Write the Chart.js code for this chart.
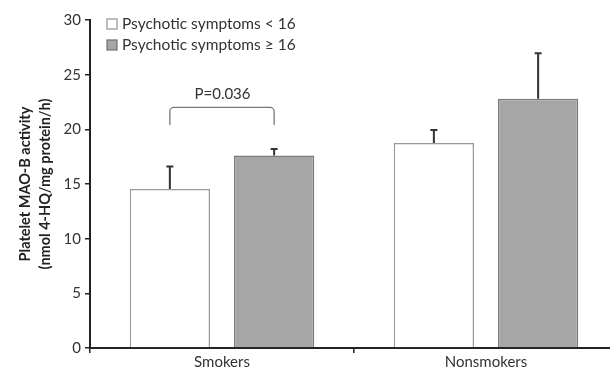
<!DOCTYPE html>
<html>
<head>
<meta charset="utf-8">
<script src="https://cdn.jsdelivr.net/npm/chart.js@4"></script>
<style>
  html, body { margin: 0; padding: 0; background: #fff; overflow: hidden; }
  #wrap { width: 610px; height: 370px; overflow: hidden; }
</style>
</head>
<body>
<div id="wrap"><canvas id="maoChart" width="618" height="370"></canvas></div>
<script>
const groups = ["Smokers", "Nonsmokers"];
const lowMeans = [14.55, 18.75];
const lowErrors = [2.05, 1.2];
const highMeans = [17.6, 22.8];
const highErrors = [0.6, 4.15];
const yTicks = [0, 5, 10, 15, 20, 25, 30];
const pLabel = "P=0.036";

const font = "Lato, 'Open Sans', sans-serif";

// error bars (upward only) + significance bracket + legend
const extras = {
  id: "extras",
  afterDatasetsDraw(chart) {
    const ctx = chart.ctx;
    const y = chart.scales.y;
    const errs = [lowErrors, highErrors];
    ctx.save();
    ctx.strokeStyle = "#333";
    ctx.lineWidth = 2;
    chart.data.datasets.forEach(function(ds, i) {
      chart.getDatasetMeta(i).data.forEach(function(bar, j) {
        const top = y.getPixelForValue(ds.data[j] + errs[i][j]);
        ctx.beginPath();
        ctx.moveTo(bar.x, bar.y);
        ctx.lineTo(bar.x, top);
        ctx.moveTo(bar.x - 3.5, top);
        ctx.lineTo(bar.x + 3.5, top);
        ctx.stroke();
      });
    });

    // bracket over smokers
    const b0 = chart.getDatasetMeta(0).data[0];
    const b1 = chart.getDatasetMeta(1).data[0];
    const yTop = y.getPixelForValue(22.0);
    const yEnd = y.getPixelForValue(20.4);
    ctx.strokeStyle = "#777";
    ctx.lineWidth = 1.3;
    ctx.beginPath();
    ctx.moveTo(b0.x, yEnd);
    ctx.arcTo(b0.x, yTop, b1.x, yTop, 4);
    ctx.arcTo(b1.x, yTop, b1.x, yEnd, 4);
    ctx.lineTo(b1.x, yEnd);
    ctx.stroke();
    ctx.fillStyle = "#333";
    ctx.font = "15px " + font;
    ctx.textAlign = "center";
    ctx.textBaseline = "middle";
    ctx.fillText(pLabel, (b0.x + b1.x) / 2 + 0.5, yTop - 13);

    // legend
    const lx = chart.chartArea.left + 17;
    ctx.font = "15.5px " + font;
    chart.data.datasets.forEach(function(ds, i) {
      const ly = chart.chartArea.top + 4 + i * 21;
      ctx.fillStyle = ds.backgroundColor;
      ctx.strokeStyle = ds.borderColor;
      ctx.lineWidth = 1.3;
      ctx.fillRect(lx, ly - 5, 10, 10);
      ctx.strokeRect(lx, ly - 5, 10, 10);
      ctx.fillStyle = "#333";
      ctx.textAlign = "left";
      ctx.textBaseline = "middle";
      ctx.fillText(ds.label, lx + 15, ly);
    });
    ctx.restore();
  }
};

new Chart("maoChart", {
  type: "bar",
  data: {
    labels: groups,
    datasets: [{
      label: "Psychotic symptoms < 16",
      data: lowMeans,
      backgroundColor: "#ffffff",
      borderColor: "#9a9a9a",
      borderWidth: 1.5
    }, {
      label: "Psychotic symptoms \u2265 16",
      data: highMeans,
      backgroundColor: "#a6a6a6",
      borderColor: "#7a7a7a",
      borderWidth: 1.5
    }]
  },
  options: {
    responsive: false,
    animation: false,
    events: [],
    layout: { padding: { top: 20, right: 0, left: 0, bottom: 0 } },
    categoryPercentage: 0.79,
    barPercentage: 0.77,
    plugins: {
      legend: { display: false },
      tooltip: { enabled: false }
    },
    scales: {
      x: {
        grid: { display: true, drawOnChartArea: false, drawTicks: true, tickLength: 5, color: "#222", lineWidth: 1.5 },
        border: { color: "#222", width: 2 },
        ticks: { color: "#333", font: { family: font, size: 15 }, padding: 0 },
        afterFit(axis) { axis.height = 22; }
      },
      y: {
        min: 0,
        max: 30,
        afterBuildTicks(axis) { axis.ticks = yTicks.map(v => ({ value: v })); },
        grid: { display: true, drawOnChartArea: false, drawTicks: true, tickLength: 5, color: "#222", lineWidth: 1.5 },
        border: { color: "#222", width: 2 },
        ticks: { color: "#333", font: { family: font, size: 15 }, padding: 4 },
        title: {
          display: true,
          text: ["Platelet MAO-B activity", "(nmol 4-HQ/mg protein/h)"],
          color: "#222",
          font: { family: font, size: 14.5, weight: "bold", lineHeight: 1.38 },
          padding: { top: 15, bottom: 0 }
        },
        afterFit(axis) { axis.width = 90; }
      }
    }
  },
  plugins: [extras]
});
</script>
</body>
</html>
